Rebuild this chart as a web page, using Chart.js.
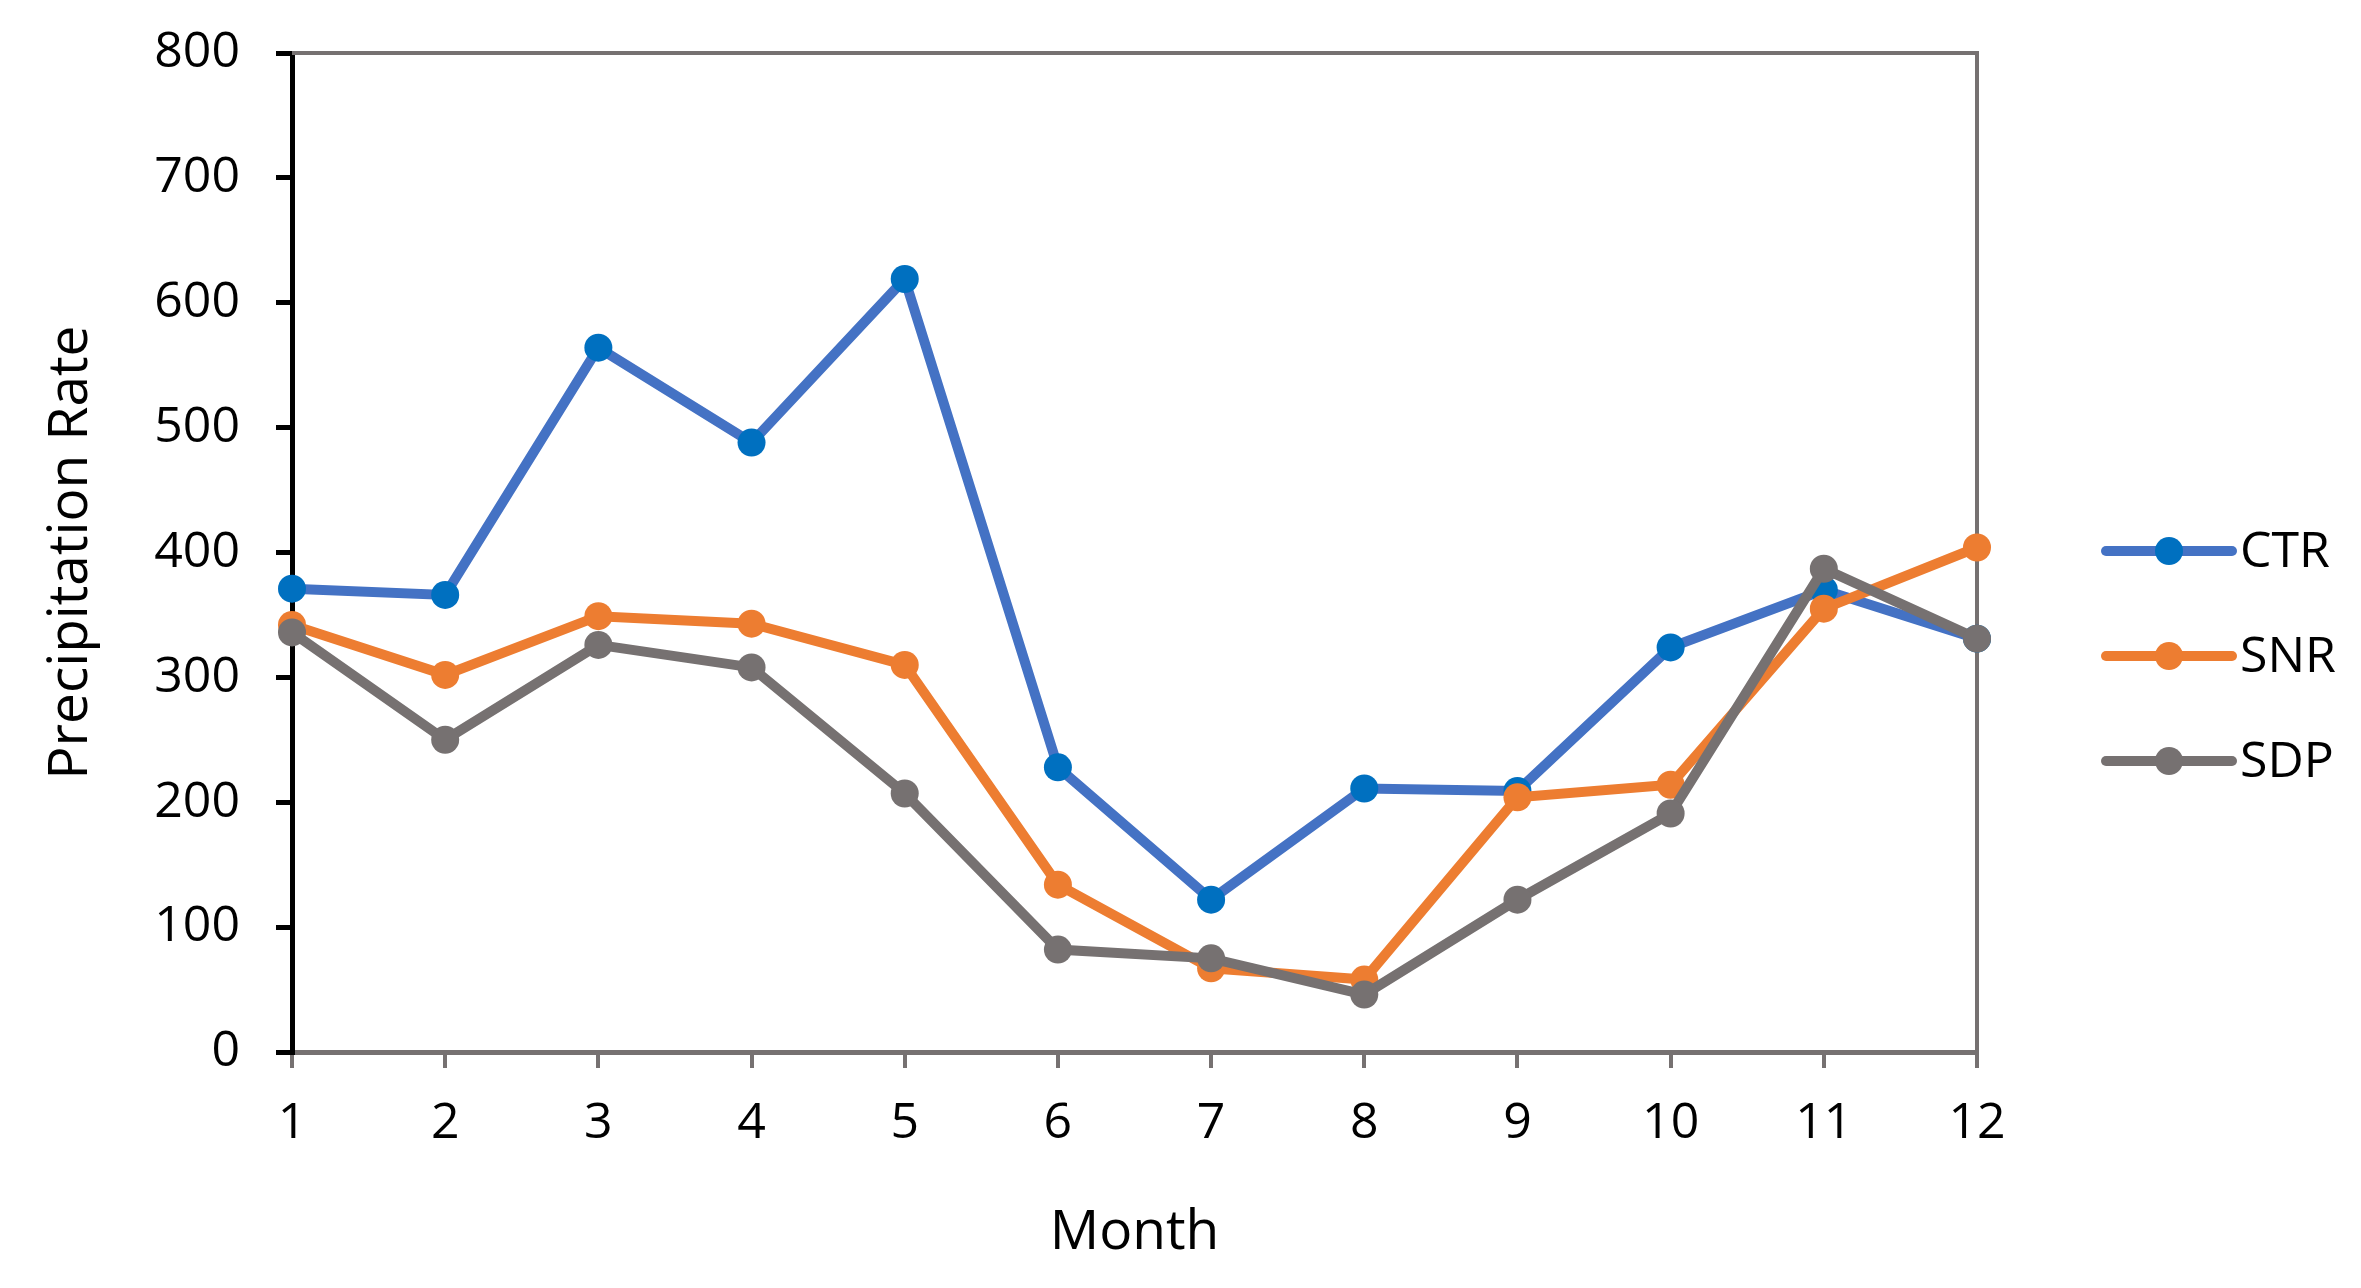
<!DOCTYPE html>
<html>
<head>
<meta charset="utf-8">
<script src="https://cdn.jsdelivr.net/npm/chart.js@4.4.0/dist/chart.umd.min.js"></script>
<style>
  html, body { margin: 0; padding: 0; background: #fff; }
  #wrap { width: 2361px; height: 1288px; position: relative; }
</style>
</head>
<body>
<div id="wrap"><canvas id="chart"></canvas></div>
<script>
  // values
  const months = ['1', '2', '3', '4', '5', '6', '7', '8', '9', '10', '11', '12'];
  const ctrValues = [371, 366, 564, 488, 619, 228, 122, 211, 209, 324, 370, 331];
  const snrValues = [342, 302, 349, 343, 310, 134, 67, 58, 204, 214, 355, 404];
  const sdpValues = [336, 250, 326, 308, 207, 82, 75, 46, 122, 191, 387, 331];
  const seriesNames = ['CTR', 'SNR', 'SDP'];
  const yMin = 0;
  const yMax = 800;
  const yStep = 100;

  const FONT = '"Open Sans", "Noto Sans", sans-serif';
  const GRAY = '#767171';

  // gray frame on top and right of the plot area
  const framePlugin = {
    id: 'frame',
    beforeDatasetsDraw(chart) {
      const { ctx, chartArea: a } = chart;
      ctx.save();
      ctx.strokeStyle = GRAY;
      ctx.lineWidth = 4;
      ctx.beginPath();
      ctx.moveTo(a.left, a.top);
      ctx.lineTo(a.right, a.top);
      ctx.lineTo(a.right, a.bottom);
      ctx.stroke();
      ctx.restore();
    }
  };

  // excel-like legend: line with a dot, label to the right
  const legendPlugin = {
    id: 'lineLegend',
    afterDraw(chart) {
      const ctx = chart.ctx;
      const x0 = 2106, x1 = 2232, textX = 2240;
      let y = 551;
      ctx.save();
      chart.data.datasets.forEach(ds => {
        ctx.strokeStyle = ds.borderColor;
        ctx.lineWidth = ds.borderWidth;
        ctx.lineCap = 'round';
        ctx.beginPath();
        ctx.moveTo(x0, y);
        ctx.lineTo(x1, y);
        ctx.stroke();
        ctx.fillStyle = ds.pointBackgroundColor;
        ctx.beginPath();
        ctx.arc((x0 + x1) / 2, y, ds.pointRadius, 0, Math.PI * 2);
        ctx.fill();
        ctx.fillStyle = '#000';
        ctx.font = '50px ' + FONT;
        ctx.textAlign = 'left';
        ctx.textBaseline = 'middle';
        ctx.fillText(ds.label, textX, y + 2);
        y += 105;
      });
      ctx.restore();
    }
  };

  function makeSeries(label, data, lineColor, dotColor, order) {
    return {
      label: label,
      data: data,
      borderColor: lineColor,
      backgroundColor: dotColor,
      pointBackgroundColor: dotColor,
      pointBorderColor: dotColor,
      borderWidth: 10,
      pointRadius: 14,
      pointBorderWidth: 0,
      tension: 0,
      order: order
    };
  }

  new Chart(document.getElementById('chart'), {
    type: 'line',
    data: {
      labels: months,
      datasets: [
        makeSeries(seriesNames[0], ctrValues, '#4472C4', '#0070C0', 3),
        makeSeries(seriesNames[1], snrValues, '#ED7D31', '#ED7D31', 2),
        makeSeries(seriesNames[2], sdpValues, GRAY, GRAY, 1)
      ]
    },
    options: {
      responsive: true,
      maintainAspectRatio: false,
      devicePixelRatio: 1,
      animation: false,
      layout: { padding: { top: 53, right: 384, left: 0, bottom: 0 } },
      plugins: {
        legend: { display: false },
        tooltip: { enabled: false }
      },
      scales: {
        x: {
          offset: false,
          afterFit(scale) {
            scale.height = 236;
            scale.paddingLeft = 0;
            scale.paddingRight = 0;
          },
          border: { color: GRAY, width: 5 },
          grid: { drawOnChartArea: false, color: GRAY, lineWidth: 4, tickLength: 16 },
          ticks: { color: '#000', font: { family: FONT, size: 50 }, padding: 26, maxRotation: 0 },
          title: { display: true, text: 'Month', color: '#000', font: { family: FONT, size: 55 }, padding: { bottom: 22 } }
        },
        y: {
          min: yMin,
          max: yMax,
          afterFit(scale) {
            scale.width = 292;
            scale.paddingTop = 0;
            scale.paddingBottom = 0;
          },
          border: { color: '#000', width: 5 },
          grid: { drawOnChartArea: false, color: '#000', lineWidth: 5, tickLength: 16 },
          ticks: { stepSize: yStep, color: '#000', font: { family: FONT, size: 50 }, padding: 36 },
          title: { display: true, text: 'Precipitation Rate', color: '#000', font: { family: FONT, size: 55 }, padding: { top: 38 } }
        }
      }
    },
    plugins: [framePlugin, legendPlugin]
  });
</script>
</body>
</html>
